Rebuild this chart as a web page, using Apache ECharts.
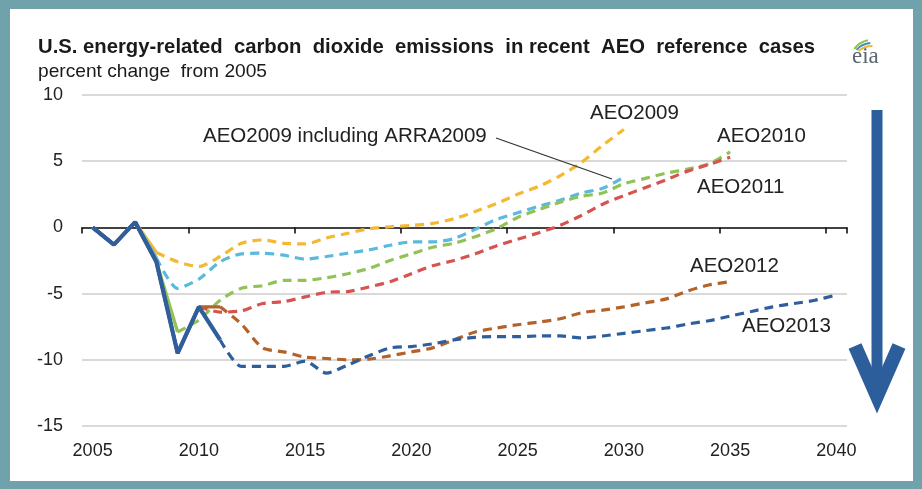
<!DOCTYPE html>
<html><head><meta charset="utf-8">
<script src="https://cdn.jsdelivr.net/npm/echarts@6/dist/echarts.min.js"></script>
<style>html,body{margin:0;padding:0;background:#fff}#c{width:922px;height:489px}</style>
</head><body><div id="c"></div>
<script>
// ---- data ----
const years = ['2005','2006','2007','2008','2009','2010','2011','2012','2013','2014','2015','2016','2017','2018','2019','2020','2021','2022','2023','2024','2025','2026','2027','2028','2029','2030','2031','2032','2033','2034','2035','2036','2037','2038','2039','2040'];
const yTicks = [-15, 10, 5];
const aeo2009 = [0,-1.3,0.4,-1.9,-2.6,-2.95,-2.2,-1.2,-0.95,-1.2,-1.25,-0.8,-0.45,-0.1,0.05,0.15,0.3,0.65,1.2,1.8,2.5,3.1,3.9,4.9,6.2,7.4];
const aeo2009arra = [0,-1.3,0.4,-2.3,-4.6,-3.9,-2.6,-2.0,-1.95,-2.1,-2.4,-2.2,-1.95,-1.7,-1.35,-1.1,-1.1,-0.85,-0.15,0.6,1.1,1.6,2.05,2.6,2.95,3.8];
const aeo2010 = [0,-1.3,0.4,-2.6,-7.9,-7.0,-5.5,-4.6,-4.4,-4.0,-4.0,-3.8,-3.5,-3.1,-2.5,-2.0,-1.5,-1.2,-0.7,-0.1,0.75,1.35,1.9,2.35,2.6,3.3,3.7,4.1,4.4,4.8,5.7];
const aeo2011 = [0,-1.3,0.4,-2.6,-9.5,-6.0,-6.4,-6.3,-5.75,-5.6,-5.25,-4.9,-4.85,-4.5,-4.1,-3.5,-2.9,-2.5,-2.0,-1.4,-0.9,-0.4,0.15,0.9,1.75,2.4,3.0,3.6,4.25,4.75,5.3];
const aeo2012 = [0,-1.3,0.4,-2.6,-9.5,-6.0,-6.0,-7.3,-9.1,-9.4,-9.8,-9.9,-10.0,-9.95,-9.7,-9.4,-9.1,-8.5,-7.9,-7.6,-7.35,-7.15,-6.9,-6.45,-6.25,-6.0,-5.7,-5.4,-4.8,-4.35,-4.1];
const aeo2013 = [0,-1.3,0.4,-2.6,-9.5,-6.0,-8.5,-10.5,-10.5,-10.5,-10.1,-11.0,-10.4,-9.7,-9.1,-9.0,-8.8,-8.5,-8.3,-8.25,-8.25,-8.2,-8.2,-8.35,-8.2,-8.0,-7.8,-7.6,-7.3,-7.05,-6.7,-6.35,-6.0,-5.75,-5.5,-5.1];
// last year of the solid (history) part of each line
const historyEnd = {AEO2009:'2008', ARRA:'2008', AEO2010:'2009', AEO2011:'2010', AEO2012:'2011', AEO2013:'2011'};

// ---- styles ----
const lines = [
  {name:'AEO2009', data:aeo2009, color:'#f5b833', key:'AEO2009'},
  {name:'AEO2009 including ARRA2009', data:aeo2009arra, color:'#5ab9dc', key:'ARRA'},
  {name:'AEO2010', data:aeo2010, color:'#92c257', key:'AEO2010'},
  {name:'AEO2011', data:aeo2011, color:'#d6534f', key:'AEO2011'},
  {name:'AEO2012', data:aeo2012, color:'#b3622a', key:'AEO2012'},
  {name:'AEO2013', data:aeo2013, color:'#2e5e9c', key:'AEO2013'}
];
const series = [];
lines.forEach((l, i) => {
  const cut = years.indexOf(historyEnd[l.key]);
  const full = years.map((y, k) => k < l.data.length ? l.data[k] : null);
  const solid = full.map((v, k) => k <= cut ? v : null);
  const dashed = full.map((v, k) => k >= cut ? v : null);
  series.push({type:'line', name:l.name+' proj', data:dashed, symbol:'none', smooth:0.25, z:2+i,
    lineStyle:{color:l.color, width:3.2, type:[9,6]}, silent:true});
  series.push({type:'line', name:l.name+' hist', data:solid, symbol:'none', z:10+i,
    lineStyle:{color:l.color, width:l.key==='AEO2013'?4.2:3.4, type:'solid'}, silent:true});
});

function fitScale(text, font, target){
  const c = document.createElement('canvas').getContext('2d');
  c.font = font; return target / c.measureText(text).width;
}
const titleText = 'U.S. energy-related  carbon  dioxide  emissions  in recent  AEO  reference  cases';
const subText = 'percent change  from 2005';
const titleFont = 'bold 21px "Liberation Sans"';
const subFont = '19px "Liberation Sans"';
const tScale = fitScale(titleText, titleFont, 777);
const sScale = fitScale(subText, subFont, 229);

const teal = '#6fa2aa';
const labelStyle = {fontSize:20.5, fontFamily:'"Liberation Sans", Arial, sans-serif', fill:'#222', textVerticalAlign:'middle'};
const chart = echarts.init(document.getElementById('c'), null, {renderer:'canvas'});
chart.setOption({
  animation:false,
  backgroundColor:'#ffffff',
  grid:{left:82, right:75, top:95, bottom:63, containLabel:false},
  xAxis:[
    {type:'category', data:years, boundaryGap:true, position:'bottom',
      axisLine:{onZero:true, lineStyle:{color:'#111', width:1.6}},
      axisTick:{show:true, interval:4, length:6, lineStyle:{color:'#111', width:1.6}},
      axisLabel:{show:false}, splitLine:{show:false}},
    {type:'category', data:years, boundaryGap:true, position:'bottom',
      axisLine:{show:false, onZero:false}, axisTick:{show:false},
      axisLabel:{interval:4, margin:16, fontSize:18, color:'#222', fontFamily:'"Liberation Sans", Arial, sans-serif'}}
  ],
  yAxis:{type:'value', min:yTicks[0], max:yTicks[1], interval:yTicks[2],
    axisLine:{show:false}, axisTick:{show:false},
    axisLabel:{fontSize:18, color:'#222', margin:19, fontFamily:'"Liberation Sans", Arial, sans-serif'},
    splitLine:{lineStyle:{color:'#d9d9d9', width:2}}},
  series: series,
  graphic:[
    {type:'rect', shape:{x:0,y:0,width:922,height:9}, style:{fill:teal}, z:100},
    {type:'rect', shape:{x:0,y:0,width:10,height:489}, style:{fill:teal}, z:100},
    {type:'rect', shape:{x:0,y:481,width:922,height:8}, style:{fill:teal}, z:100},
    {type:'rect', shape:{x:913,y:0,width:9,height:489}, style:{fill:teal}, z:100},
    {type:'text', x:38, y:47, scaleX:tScale, style:{text:titleText, font:titleFont, fill:'#1a1a1a', textVerticalAlign:'middle'}, z:100},
    {type:'text', x:38, y:72, scaleX:sScale, style:{text:subText, font:subFont, fill:'#1a1a1a', textVerticalAlign:'middle'}, z:100},
    {type:'text', x:590, y:113, style:Object.assign({text:'AEO2009'}, labelStyle), z:100},
    {type:'text', x:203, y:136, style:Object.assign({text:'AEO2009 including ARRA2009'}, labelStyle), z:100},
    {type:'text', x:717, y:136, style:Object.assign({text:'AEO2010'}, labelStyle), z:100},
    {type:'text', x:697, y:187, style:Object.assign({text:'AEO2011'}, labelStyle), z:100},
    {type:'text', x:690, y:266, style:Object.assign({text:'AEO2012'}, labelStyle), z:100},
    {type:'text', x:742, y:326, style:Object.assign({text:'AEO2013'}, labelStyle), z:100},
    {type:'line', shape:{x1:496, y1:138, x2:612, y2:179}, style:{stroke:'#333', lineWidth:1.3}, z:100},
    // arrow
    {type:'line', shape:{x1:877, y1:110, x2:877, y2:396}, style:{stroke:'#2b5e9b', lineWidth:11}, z:100},
    {type:'polyline', shape:{points:[[855,346],[877,396],[899,346]]}, style:{stroke:'#2b5e9b', lineWidth:14, lineJoin:'miter', lineCap:'butt', fill:null}, z:100},
    // eia logo
    {type:'arc', shape:{cx:872, cy:62, r:22, startAngle:-2.5, endAngle:-1.75}, style:{stroke:'#8cc63f', lineWidth:2, fill:null}, z:100},
    {type:'arc', shape:{cx:872, cy:64, r:21, startAngle:-2.4, endAngle:-1.65}, style:{stroke:'#3d8fc6', lineWidth:2, fill:null}, z:100},
    {type:'arc', shape:{cx:872, cy:66, r:20, startAngle:-2.3, endAngle:-1.55}, style:{stroke:'#f2b631', lineWidth:2, fill:null}, z:100},
    {type:'text', x:852, y:57, style:{text:'eia', font:'23px "Liberation Serif"', fill:'#5b6670', textVerticalAlign:'middle'}, z:100}
  ]
});
</script></body></html>
